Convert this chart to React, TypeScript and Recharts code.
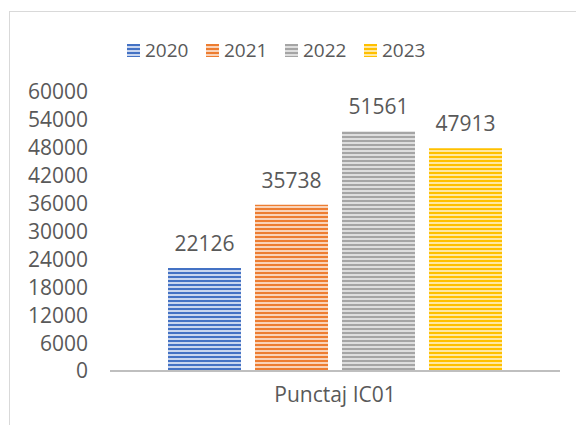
import { BarChart, Bar, XAxis, YAxis, LabelList } from 'recharts';

const categories = ['Punctaj IC01'];
const years = ['2020', '2021', '2022', '2023'];
const values = [22126, 35738, 51561, 47913];
const yTicks = [0, 6000, 12000, 18000, 24000, 30000, 36000, 42000, 48000, 54000, 60000];

const colors = ['#4472C4', '#ED7D31', '#A5A5A5', '#FFC000'];
const lightColors = ['#C9D6EF', '#F9D3B9', '#DEDEDE', '#FFE8A3'];

const data = categories.map((name) => {
  const row: Record<string, string | number> = { name };
  years.forEach((y, i) => {
    row[y] = values[i];
  });
  return row;
});

const font = "'Open Sans', sans-serif";
const textColor = '#595959';

function LegendContent() {
  return (
    <div
      style={{
        position: 'absolute',
        left: 127,
        top: 37,
        display: 'flex',
        alignItems: 'center',
        fontFamily: font,
        fontSize: 19,
        color: textColor,
      }}
    >
      {years.map((y, i) => (
        <div key={y} style={{ display: 'flex', alignItems: 'center', width: 79 }}>
          <span
            style={{
              display: 'inline-block',
              width: 13,
              height: 13,
              marginRight: 5,
              background: `repeating-linear-gradient(to bottom, ${colors[i]} 0px, ${colors[i]} 2px, ${lightColors[i]} 2px, ${lightColors[i]} 4px)`,
            }}
          />
          <span>{y}</span>
        </div>
      ))}
    </div>
  );
}

export default function App() {
  return (
    <div style={{ position: 'absolute', left: 0, top: 0, width: 576, height: 425, overflow: 'hidden', background: '#fff' }}>
      <div
        style={{
          position: 'absolute',
          left: 9,
          top: 11,
          width: 620,
          height: 460,
          border: '1.5px solid #D9D9D9',
          boxSizing: 'border-box',
        }}
      />
      <LegendContent />
      <div style={{ position: 'absolute', left: 0, top: 0 }}>
        <BarChart
          width={576}
          height={425}
          data={data}
          margin={{ top: 92, right: 16, bottom: 24, left: 10 }}
          barSize={73}
          barGap={14}
        >
          <defs>
            {years.map((y, i) => (
              <pattern key={y} id={`stripe-${y}`} width={6} height={4} patternUnits="userSpaceOnUse">
                <rect x={0} y={0} width={6} height={4} fill={lightColors[i]} />
                <rect x={0} y={0} width={6} height={2} fill={colors[i]} />
              </pattern>
            ))}
          </defs>
          <XAxis
            dataKey="name"
            axisLine={{ stroke: '#BFBFBF', strokeWidth: 2 }}
            tickLine={false}
            tickSize={0}
            tickMargin={16}
            height={30}
            tick={{ fontSize: 21, fill: textColor, fontFamily: font }}
          />
          <YAxis
            domain={[0, 60000]}
            ticks={yTicks}
            axisLine={false}
            tickLine={false}
            tickSize={0}
            tickMargin={22}
            width={100}
            interval={0}
            tick={{ fontSize: 21, fill: textColor, fontFamily: font }}
          />
          {years.map((y) => (
            <Bar key={y} dataKey={y} fill={`url(#stripe-${y})`} isAnimationActive={false}>
              <LabelList
                dataKey={y}
                position="top"
                offset={17}
                style={{ fontSize: 21, fill: textColor, fontFamily: font }}
              />
            </Bar>
          ))}
        </BarChart>
      </div>
    </div>
  );
}
